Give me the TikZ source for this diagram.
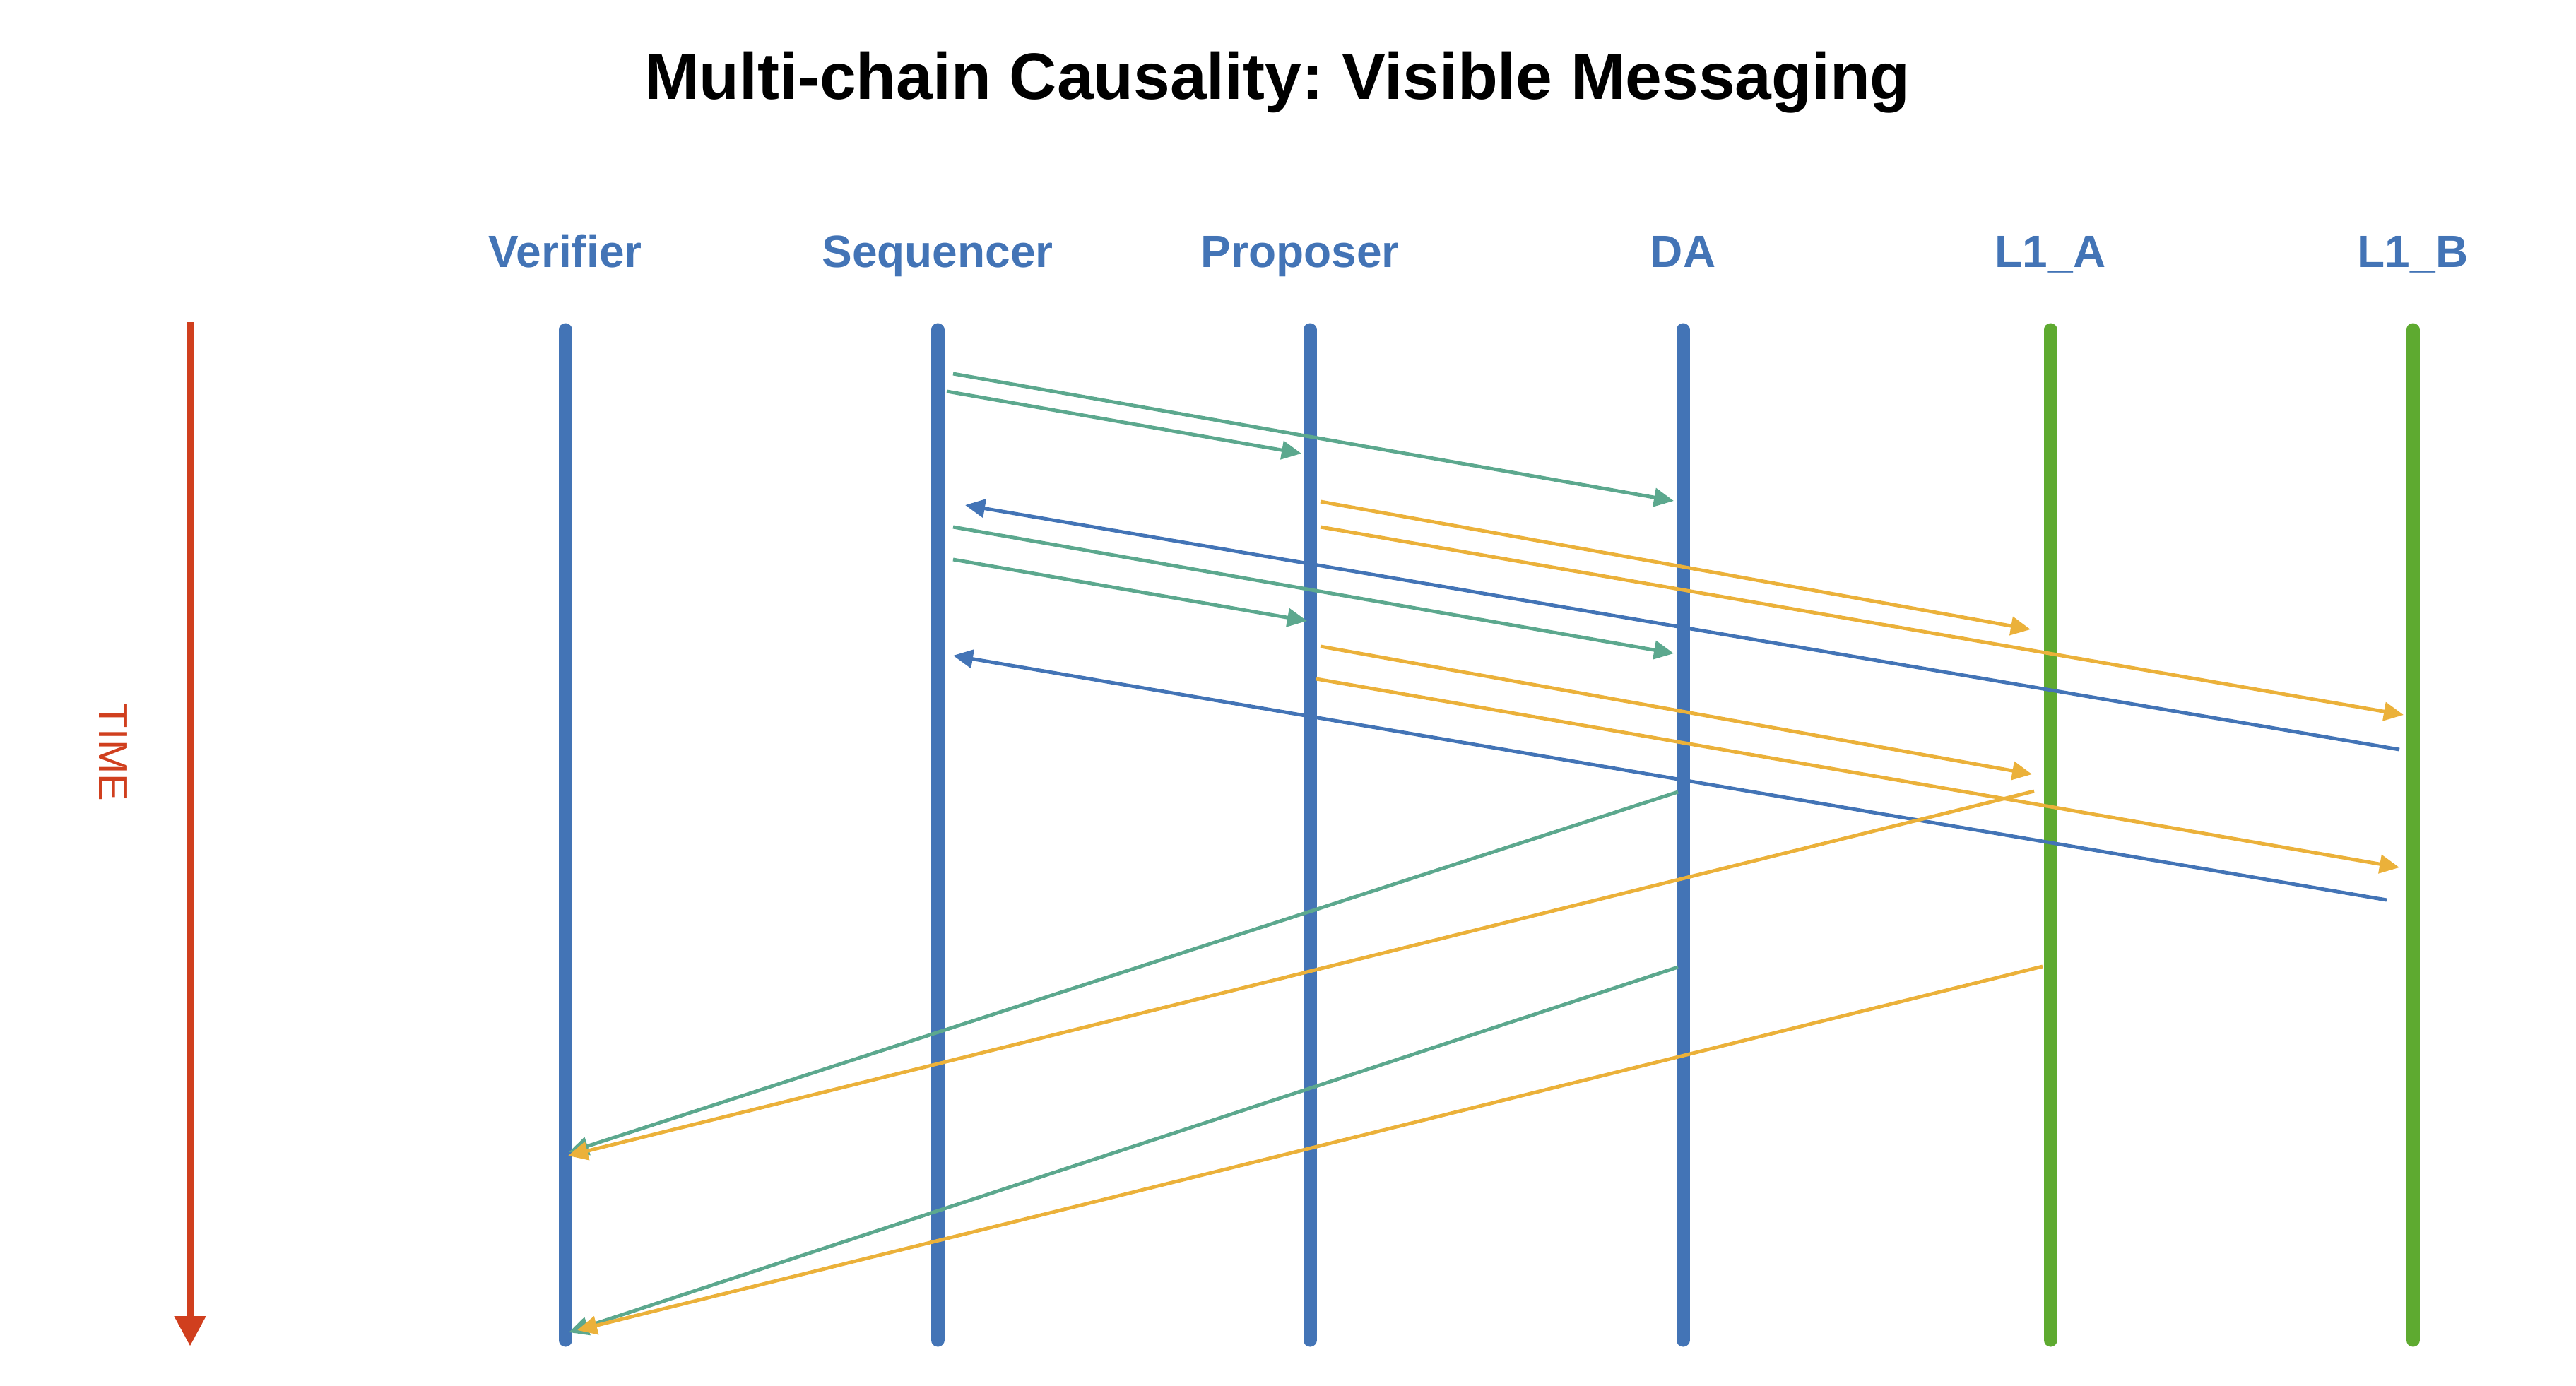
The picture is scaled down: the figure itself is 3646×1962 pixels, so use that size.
\documentclass[tikz,border=0pt]{standalone}
\usepackage{fontspec}
\setmainfont{Liberation Sans}
\usepackage{tikz}
\usetikzlibrary{arrows.meta, positioning, calc}
\definecolor{lifeblue}{RGB}{67,116,182}
\definecolor{lifegreen}{RGB}{94,170,48}
\definecolor{msggreen}{RGB}{92,168,142}
\definecolor{msgorange}{RGB}{235,177,58}
\definecolor{timered}{RGB}{208,63,30}
\tikzstyle{lifeline} = [line width=19pt, line cap=round]
\tikzstyle{msg} = [line width=5pt, -{Triangle[length=28pt,width=26pt]}]
\tikzstyle{partlabel} = [text=lifeblue, font=\fontsize{64}{70}\selectfont\bfseries, anchor=base, inner sep=0pt]
\frenchspacing

\begin{document}
\begin{tikzpicture}[x=1pt,y=-1pt]
		\useasboundingbox (0,0) rectangle (3646,1962);
		\node[anchor=base, inner sep=0pt, font=\fontsize{93}{110}\selectfont\bfseries](title) at (1808,140) {Multi-chain Causality: Visible Messaging};
		% parties
		\node[partlabel](p_ver) at (800,378) {Verifier};
		\node[partlabel](p_seq) at (1327,378) {Sequencer};
		\node[partlabel](p_pro) at (1840,378) {Proposer};
		\node[partlabel](p_da) at (2382,378) {DA};
		\node[partlabel](p_a) at (2902,378) {L1\_A};
		\node[partlabel](p_b) at (3415,378) {L1\_B};
		\foreach \n/\x in {ver/800, seq/1327, pro/1854, da/2382, a/2902, b/3415} {
			\coordinate (\n_t) at (\x,467);
			\coordinate (\n_b) at (\x,1897);
		}
		\draw[lifeline, lifeblue] (ver_t) -- (ver_b);
		\draw[lifeline, lifeblue] (seq_t) -- (seq_b);
		\draw[lifeline, lifeblue] (pro_t) -- (pro_b);
		\draw[lifeline, lifeblue] (da_t) -- (da_b);
		\draw[lifeline, lifegreen] (a_t) -- (a_b);
		\draw[lifeline, lifegreen] (b_t) -- (b_b);
		% time axis
		\coordinate (time_t) at (269,456);
		\coordinate (time_b) at (269,1906);
		\draw[line width=11pt, timered, -{Triangle[length=43pt,width=42pt]}] (time_t) -- (time_b);
		\node[rotate=-90, text=timered, font=\fontsize{58}{60}\selectfont](time_lbl) at (160,1065) {TIME};
		% message ends
		\coordinate (g_1s) at (1349,529);  \coordinate (g_1e) at (2369,709);
		\coordinate (g_2s) at (1340,554);  \coordinate (g_2e) at (1842,642);
		\coordinate (g_3s) at (1349,746);  \coordinate (g_3e) at (2369,925);
		\coordinate (g_4s) at (1349,792);  \coordinate (g_4e) at (1850,879);
		\coordinate (g_5s) at (2375,1121); \coordinate (g_5e) at (805,1631);
		\coordinate (g_6s) at (2375,1369); \coordinate (g_6e) at (805,1886);
		\coordinate (b_1s) at (3396,1061); \coordinate (b_1e) at (1366,715);
		\coordinate (b_2s) at (3378,1274); \coordinate (b_2e) at (1349,928);
		\coordinate (o_1s) at (1869,710);  \coordinate (o_1e) at (2874,891);
		\coordinate (o_2s) at (1869,746);  \coordinate (o_2e) at (3402,1012);
		\coordinate (o_3s) at (1869,915);  \coordinate (o_3e) at (2876,1096);
		\coordinate (o_4s) at (1863,961);  \coordinate (o_4e) at (3396,1228);
		\coordinate (o_5s) at (2879,1120); \coordinate (o_5e) at (804,1636);
		\coordinate (o_6s) at (2891,1368); \coordinate (o_6e) at (817,1883);
		\path[msg, lifeblue]
		(b_1s) edge (b_1e)
		(b_2s) edge (b_2e);
		\path[msg, msggreen]
		(g_1s) edge (g_1e)
		(g_2s) edge (g_2e)
		(g_3s) edge (g_3e)
		(g_4s) edge (g_4e)
		(g_5s) edge (g_5e)
		(g_6s) edge (g_6e);
		\path[msg, msgorange]
		(o_1s) edge (o_1e)
		(o_2s) edge (o_2e)
		(o_3s) edge (o_3e)
		(o_4s) edge (o_4e)
		(o_5s) edge (o_5e)
		(o_6s) edge (o_6e);
\end{tikzpicture}
\end{document}
